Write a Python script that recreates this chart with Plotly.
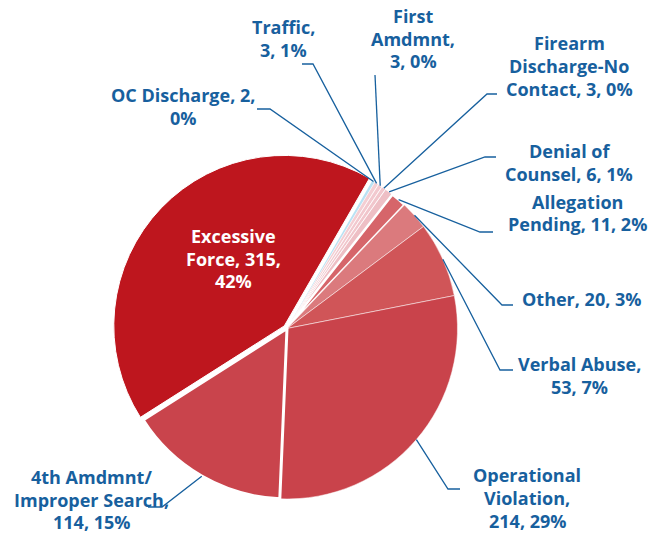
import math
import plotly.graph_objects as go

# ---- data ----
categories = ["OC Discharge", "Traffic", "First Amdmnt", "Firearm Discharge-No Contact",
              "Denial of Counsel", "Allegation Pending", "Other", "Verbal Abuse",
              "Operational Violation", "4th Amdmnt/ Improper Search", "Excessive Force"]
values = [2, 3, 3, 3, 6, 11, 20, 53, 214, 114, 315]
percents = ["0%", "1%", "0%", "0%", "1%", "2%", "3%", "7%", "29%", "15%", "42%"]
label_texts = [
    "OC Discharge, 2,<br>0%",
    "Traffic,<br>3, 1%",
    "First<br>Amdmnt,<br>3, 0%",
    "Firearm<br>Discharge-No<br>Contact, 3, 0%",
    "Denial of<br>Counsel, 6, 1%",
    "Allegation<br>Pending, 11, 2%",
    "Other, 20, 3%",
    "Verbal Abuse,<br>53, 7%",
    "Operational<br>Violation,<br>214, 29%",
    "4th Amdmnt/<br>Improper Search,<br>114, 15%",
    "Excessive<br>Force, 315,<br>42%",
]

# ---- styling ----
colors = ["#B9E2F4", "#F4CED3", "#F2C9CF", "#F1C6CC", "#EEBFC5", "#D6656A",
          "#DB7A7D", "#D05558", "#C9434B", "#C9444C", "#BE161E"]
line_widths = [0, 0.6, 0.8, 0.8, 0.8, 2.5, 0.5, 0.5, 0.5, 3, 1]
pulls = [0, 0, 0, 0, 0, 0, 0, 0, 0, 0, 0.022]
W, H = 666, 533
CX, CY, R = 287, 328.5, 170.5
ROT = 30
BLUE = "#17609E"
FONT = "Open Sans"
FS = 18
LINE_H = 22.6

# label centers (pixels) and leader elbow / end points (pixels)
label_pos = [(183, 106.5), (283, 38.5), (413, 38.5), (569, 66), (569, 162.5), (577, 213),
             (582, 299), (579, 375.5), (527, 498), (91, 499.5), (233, 258.5)]
elbows = [((270, 109), (257, 109)), ((313, 64), (302, 64)), ((375, 75), (375, 75)),
          ((487, 94), (497, 94)), ((485, 157), (496, 157)), ((480, 232), (493, 232)),
          ((502, 305), (513, 305)), ((500, 370), (513, 370)), ((448, 489), (460, 489)),
          ((162, 507), (148, 507)), None]


def px(x):
    return x / W


def py(y):
    return 1 - y / H


RD = R * (1 + max(pulls))  # domain half-size so that the pie radius stays R
fig = go.Figure(go.Pie(
    labels=categories, values=values, sort=False, direction="clockwise", rotation=ROT,
    pull=pulls,
    marker=dict(colors=colors, line=dict(color="white", width=line_widths)),
    textinfo="none", hoverinfo="label+value+percent", showlegend=False,
    domain=dict(x=[px(CX - RD), px(CX + RD)], y=[py(CY + RD), py(CY - RD)]),
))

total = sum(values)
cum = 0
shapes = []
annotations = []
for i, v in enumerate(values):
    mid = ROT + (cum + v / 2) / total * 360
    cum += v
    a = math.radians(mid)
    sx, sy = CX + R * math.sin(a), CY - R * math.cos(a)
    if elbows[i] is not None:
        (ex, ey), (tx, ty) = elbows[i]
        path = f"M {px(sx)},{py(sy)} L {px(ex)},{py(ey)} L {px(tx)},{py(ty)}"
        shapes.append(dict(type="path", xref="paper", yref="paper", path=path,
                           line=dict(color=BLUE, width=1.3)))
    lx, ly = label_pos[i]
    lines = label_texts[i].split("<br>")
    n = len(lines)
    for k, line in enumerate(lines):
        yy = ly + (k - (n - 1) / 2) * LINE_H
        annotations.append(dict(
            x=px(lx), y=py(yy), xref="paper", yref="paper", showarrow=False,
            text=line, align="center", xanchor="center", yanchor="middle",
            font=dict(family=FONT, size=FS,
                      color="white" if i == len(values) - 1 else BLUE, weight="bold"),
        ))

fig.update_layout(
    width=W, height=H, margin=dict(l=0, r=0, t=0, b=0),
    paper_bgcolor="white", plot_bgcolor="white",
    shapes=shapes, annotations=annotations,
)
fig.write_html("out.html", config={"displayModeBar": False},
               post_script="document.body.style.margin='0';")
